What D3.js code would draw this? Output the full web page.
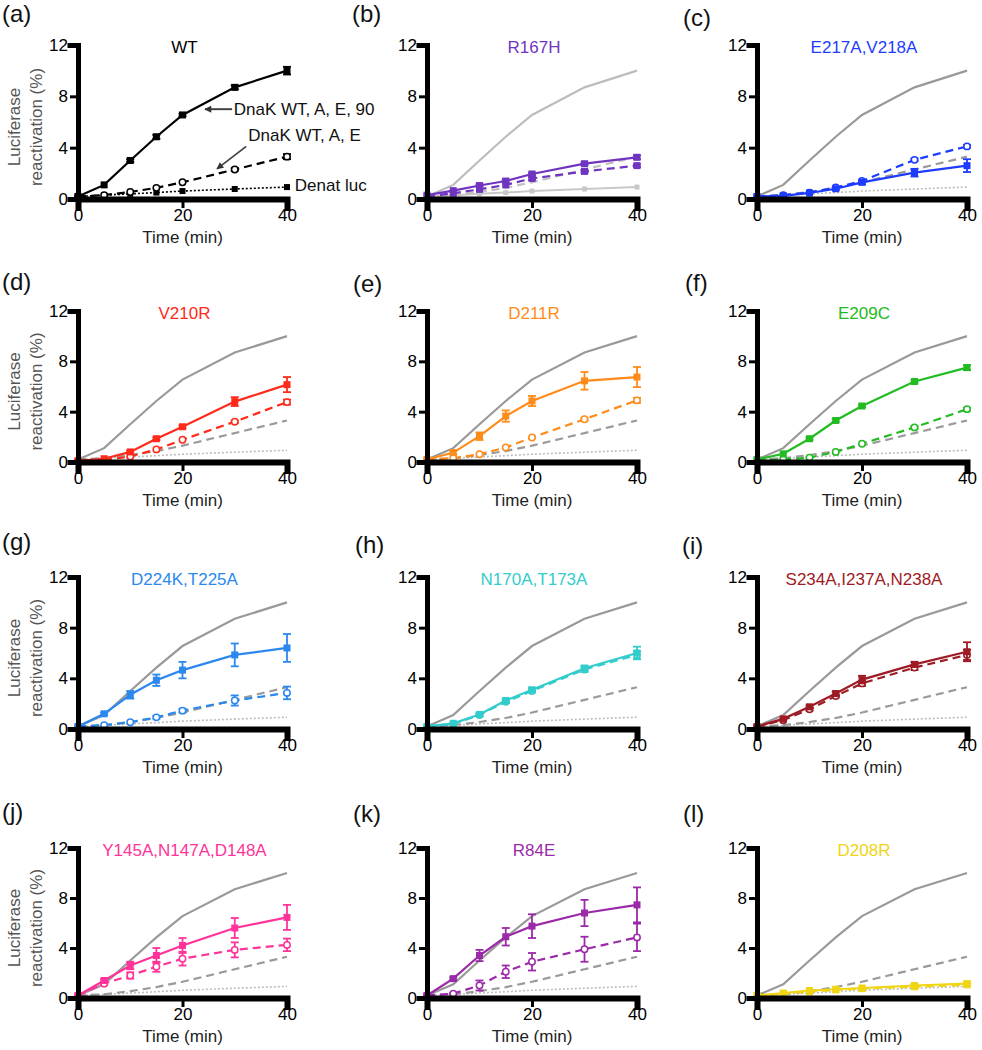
<!DOCTYPE html>
<html><head><meta charset="utf-8">
<script src="https://cdn.jsdelivr.net/npm/d3@7"></script>
<style>
html,body{margin:0;padding:0;background:#fff;}
svg text{font-family:"Liberation Sans",Arial,Helvetica,sans-serif;}
</style></head>
<body>
<svg id="chart" width="982" height="1050"></svg>
<script>
// ---------------- DATA ----------------
const times = [0, 5, 10, 15, 20, 30, 40];
const yTicks = [0, 4, 8, 12];
const xTicks = [0, 20, 40];
const panelLetters = ["(a)","(b)","(c)","(d)","(e)","(f)","(g)","(h)","(i)","(j)","(k)","(l)"];
const panelTitles = ["WT","R167H","E217A,V218A","V210R","D211R","E209C","D224K,T225A","N170A,T173A","S234A,I237A,N238A","Y145A,N147A,D148A","R84E","D208R"];
const xLabel = "Time (min)";
const yLabelLines = ["Luciferase", "reactivation (%)"];
const wtAnnotations = ["DnaK WT, A, E, 90", "DnaK WT, A, E", "Denat luc"];

// WT reference curves
const wtSolid  = [0.2, 1.1, 3.0, 4.85, 6.55, 8.7, 10.0];
const wtSolidErr = [0, 0, 0.1, 0.15, 0.1, 0.15, 0.3];
const wtDashed = [0.2, 0.3, 0.55, 0.87, 1.3, 2.3, 3.3];
const wtDashedErr = [0, 0, 0, 0, 0, 0.1, 0.2];
const denatLuc = [0.2, 0.3, 0.4, 0.5, 0.62, 0.78, 0.93];

// mutants: solid (A,E,90) and dashed (A,E)
const r167hSolid  = [0.3, 0.65, 1.05, 1.4, 1.95, 2.75, 3.25];
const r167hSolidErr = [0, 0, 0.1, 0.1, 0.1, 0.1, 0.15];
const r167hDashed = [0.2, 0.45, 0.75, 1.1, 1.6, 2.15, 2.6];
const r167hDashedErr = [0, 0, 0, 0, 0.1, 0.1, 0.1];

const e217Solid  = [0.2, 0.25, 0.47, 0.8, 1.3, 2.05, 2.6];
const e217SolidErr = [0, 0, 0, 0.1, 0.15, 0.3, 0.5];
const e217Dashed = [0.2, 0.3, 0.5, 0.9, 1.4, 3.05, 4.1];
const e217DashedErr = [0, 0, 0, 0, 0, 0.1, 0.1];

const v210rSolid  = [0.1, 0.26, 0.8, 1.85, 2.8, 4.8, 6.15];
const v210rSolidErr = [0, 0, 0.1, 0.1, 0.1, 0.35, 0.6];
const v210rDashed = [0.1, 0.15, 0.44, 1.0, 1.77, 3.2, 4.76];
const v210rDashedErr = [0, 0, 0, 0, 0, 0.1, 0.2];

const d211rSolid  = [0.2, 0.75, 2.05, 3.65, 4.85, 6.45, 6.75];
const d211rSolidErr = [0, 0.15, 0.3, 0.45, 0.4, 0.7, 0.8];
const d211rDashed = [0.2, 0.3, 0.62, 1.15, 1.95, 3.4, 4.9];
const d211rDashedErr = [0, 0, 0, 0, 0, 0.1, 0.2];

const e209cSolid  = [0.2, 0.65, 1.85, 3.3, 4.45, 6.4, 7.5];
const e209cSolidErr = [0, 0, 0.1, 0.1, 0.1, 0.1, 0.2];
const e209cDashed = [0.1, 0.2, 0.35, 0.8, 1.45, 2.75, 4.2];
const e209cDashedErr = [0, 0, 0, 0, 0, 0.1, 0.1];

const d224kSolid  = [0.2, 1.2, 2.7, 3.85, 4.65, 5.85, 6.4];
const d224kSolidErr = [0, 0.1, 0.3, 0.45, 0.65, 0.9, 1.1];
const d224kDashed = [0.2, 0.3, 0.53, 0.92, 1.45, 2.25, 2.85];
const d224kDashedErr = [0, 0, 0, 0.1, 0.15, 0.4, 0.5];

const n170aSolid  = [0.2, 0.45, 1.15, 2.25, 3.1, 4.8, 6.0];
const n170aSolidErr = [0, 0, 0.1, 0.15, 0.15, 0.2, 0.5];
const n170aDashed = [0.2, 0.4, 1.1, 2.15, 3.0, 4.7, 5.85];
const n170aDashedErr = [0, 0, 0.1, 0.1, 0.1, 0.2, 0.3];

const s234aSolid  = [0.2, 0.8, 1.75, 2.8, 3.9, 5.1, 6.1];
const s234aSolidErr = [0, 0, 0.1, 0.15, 0.3, 0.2, 0.75];
const s234aDashed = [0.2, 0.7, 1.55, 2.6, 3.6, 4.85, 5.85];
const s234aDashedErr = [0, 0, 0.1, 0.1, 0.2, 0.2, 0.4];

const y145aSolid  = [0.2, 1.4, 2.6, 3.4, 4.2, 5.6, 6.45];
const y145aSolidErr = [0, 0.1, 0.3, 0.6, 0.6, 0.8, 1.0];
const y145aDashed = [0.2, 1.15, 1.8, 2.5, 3.15, 3.85, 4.25];
const y145aDashedErr = [0, 0.1, 0.25, 0.4, 0.55, 0.6, 0.5];

const r84eSolid  = [0.2, 1.55, 3.4, 4.9, 5.75, 6.8, 7.45];
const r84eSolidErr = [0, 0.1, 0.45, 0.7, 0.95, 1.05, 1.4];
const r84eDashed = [0.2, 0.35, 1.0, 2.1, 2.9, 3.9, 4.85];
const r84eDashedErr = [0, 0.05, 0.4, 0.5, 0.7, 1.0, 1.1];

const d208rSolid  = [0.2, 0.4, 0.6, 0.7, 0.8, 1.0, 1.15];
const d208rSolidErr = [0, 0, 0, 0, 0, 0.1, 0.15];
const d208rDashed = [0.2, 0.35, 0.5, 0.65, 0.75, 0.9, 1.05];
const d208rDashedErr = [0, 0, 0, 0, 0, 0.05, 0.1];

const panelColors = ["#000000","#7035c0","#1e3cff","#ff2a1a","#ff8c1a","#22bb22","#2a88ee","#33cccc","#9e1b25","#ff3399","#9b2aa8","#f0d515"];

const mutantSolid = [wtSolid, r167hSolid, e217Solid, v210rSolid, d211rSolid, e209cSolid, d224kSolid, n170aSolid, s234aSolid, y145aSolid, r84eSolid, d208rSolid];
const mutantSolidErr = [wtSolidErr, r167hSolidErr, e217SolidErr, v210rSolidErr, d211rSolidErr, e209cSolidErr, d224kSolidErr, n170aSolidErr, s234aSolidErr, y145aSolidErr, r84eSolidErr, d208rSolidErr];
const mutantDashed = [wtDashed, r167hDashed, e217Dashed, v210rDashed, d211rDashed, e209cDashed, d224kDashed, n170aDashed, s234aDashed, y145aDashed, r84eDashed, d208rDashed];
const mutantDashedErr = [wtDashedErr, r167hDashedErr, e217DashedErr, v210rDashedErr, d211rDashedErr, e209cDashedErr, d224kDashedErr, n170aDashedErr, s234aDashedErr, y145aDashedErr, r84eDashedErr, d208rDashedErr];

// ---------------- LAYOUT ----------------
const colX0 = [78, 427, 757];
const colX1 = [287, 637, 967];
const rowTop = [45, 311, 577, 848];
const rowBot = [199, 462, 729, 998];
const letterPos = [[2,22],[352,22],[683,26],[2,290],[353,292],[685,291],[2,550],[355,553],[682,554],[2,820],[353,822],[683,822]];

const svg = d3.select("#chart");
const FS = 17;

function drawPanel(i) {
  const col = i % 3, row = Math.floor(i / 3);
  const x = d3.scaleLinear().domain([0, 40]).range([colX0[col], colX1[col]]);
  const y = d3.scaleLinear().domain([0, 12]).range([rowBot[row], rowTop[row]]);
  const g = svg.append("g");
  const color = panelColors[i];
  const line = d3.line().x((d, k) => x(times[k])).y(d => y(d));
  const pts = arr => arr.map((v, k) => ({t: times[k], v: v}));

  // panel letter
  svg.append("text").attr("x", letterPos[i][0]).attr("y", letterPos[i][1])
    .attr("font-size", 24).attr("fill", "#111").text(panelLetters[i]);

  // title
  g.append("text").attr("x", (colX0[col] + colX1[col]) / 2 + 2).attr("y", rowTop[row] + 8)
    .attr("text-anchor", "middle").attr("font-size", FS).attr("fill", i === 0 ? "#000" : color)
    .text(panelTitles[i]);

  // grey references
  if (i > 0) {
    const light = (i === 1);
    g.append("path").attr("d", line(denatLuc)).attr("fill", "none")
      .attr("stroke", light ? "#c8c8c8" : "#bdbdbd").attr("stroke-width", light ? 2 : 1.6)
      .attr("stroke-dasharray", light ? null : "2,2");
    if (light) {
      g.selectAll(null).data(pts(denatLuc)).enter().append("rect")
        .attr("x", d => x(d.t) - 2.5).attr("y", d => y(d.v) - 2.5).attr("width", 5).attr("height", 5)
        .attr("fill", "#c8c8c8");
    }
    g.append("path").attr("d", line(wtDashed)).attr("fill", "none")
      .attr("stroke", light ? "#c0c0c0" : "#9a9a9a").attr("stroke-width", 2.2).attr("stroke-dasharray", "8,5");
    g.append("path").attr("d", line(wtSolid)).attr("fill", "none")
      .attr("stroke", light ? "#bdbdbd" : "#999999").attr("stroke-width", 2.2);
  } else {
    // denat luc (black dotted, filled squares)
    g.append("path").attr("d", line(denatLuc)).attr("fill", "none")
      .attr("stroke", "#000").attr("stroke-width", 1.6).attr("stroke-dasharray", "2,2");
    g.selectAll(null).data(pts(denatLuc)).enter().append("rect")
      .attr("x", d => x(d.t) - 3).attr("y", d => y(d.v) - 3).attr("width", 6).attr("height", 6)
      .attr("fill", "#000");
  }

  // error bars
  function errBars(vals, errs) {
    const data = vals.map((v, k) => ({t: times[k], v: v, e: errs[k]})).filter(d => d.e > 0);
    const eg = g.append("g").attr("stroke", color).attr("stroke-width", 1.8).attr("fill", "none");
    data.forEach(d => {
      eg.append("line").attr("x1", x(d.t)).attr("x2", x(d.t)).attr("y1", y(d.v - d.e)).attr("y2", y(d.v + d.e));
      eg.append("line").attr("x1", x(d.t) - 4).attr("x2", x(d.t) + 4).attr("y1", y(d.v - d.e)).attr("y2", y(d.v - d.e));
      eg.append("line").attr("x1", x(d.t) - 4).attr("x2", x(d.t) + 4).attr("y1", y(d.v + d.e)).attr("y2", y(d.v + d.e));
    });
  }

  // dashed series
  const dVals = mutantDashed[i];
  errBars(dVals, mutantDashedErr[i]);
  g.append("path").attr("d", line(dVals)).attr("fill", "none")
    .attr("stroke", color).attr("stroke-width", 2.2).attr("stroke-dasharray", "8,5");
  if (i === 1 || i === 11) {
    g.selectAll(null).data(pts(dVals)).enter().append("rect")
      .attr("x", d => x(d.t) - 3.5).attr("y", d => y(d.v) - 3.5).attr("width", 7).attr("height", 7)
      .attr("fill", color);
  } else {
    g.selectAll(null).data(pts(dVals)).enter().append("circle")
      .attr("cx", d => x(d.t)).attr("cy", d => y(d.v)).attr("r", 3.2)
      .attr("fill", "#fff").attr("stroke", color).attr("stroke-width", 1.5);
  }

  // solid series
  const sVals = mutantSolid[i];
  errBars(sVals, mutantSolidErr[i]);
  g.append("path").attr("d", line(sVals)).attr("fill", "none")
    .attr("stroke", color).attr("stroke-width", 2.2);
  g.selectAll(null).data(pts(sVals)).enter().append("rect")
    .attr("x", d => x(d.t) - 3.5).attr("y", d => y(d.v) - 3.5).attr("width", 7).attr("height", 7)
    .attr("fill", color);

  // axes
  const ax = g.append("g").attr("transform", `translate(0,${rowBot[row]})`)
    .call(d3.axisBottom(x).tickValues(xTicks).tickSizeOuter(0).tickSize(9).tickPadding(1));
  const ay = g.append("g").attr("transform", `translate(${colX0[col]},0)`)
    .call(d3.axisLeft(y).tickValues(yTicks).tickSizeOuter(0).tickSize(8).tickPadding(2));
  [ax, ay].forEach(a => {
    a.select(".domain").attr("stroke", "#000").attr("stroke-width", 5).attr("stroke-linecap", "square");
    a.selectAll(".tick line").attr("stroke", "#000").attr("stroke-width", 3);
    a.selectAll(".tick text").attr("font-size", FS).attr("fill", "#000")
      .attr("font-family", "Liberation Sans, Arial, sans-serif");
  });
  ax.select(".domain").attr("stroke-width", 6);

  // x label
  g.append("text").attr("x", (colX0[col] + colX1[col]) / 2).attr("y", rowBot[row] + 44)
    .attr("text-anchor", "middle").attr("font-size", FS).attr("fill", "#222").text(xLabel);

  // y label (first column)
  if (col === 0) {
    const ym = (rowTop[row] + rowBot[row]) / 2 + 5;
    [14, 36].forEach((xx, k) => {
      g.append("text").attr("transform", `translate(${xx},${ym}) rotate(-90)`)
        .attr("text-anchor", "middle").attr("dominant-baseline", "central")
        .attr("font-size", FS).attr("fill", "#555").text(yLabelLines[k]);
    });
  }

  // annotations for WT panel
  if (i === 0) {
    const defs = svg.append("defs");
    defs.append("marker").attr("id", "ah").attr("viewBox", "0 0 10 10").attr("refX", 9).attr("refY", 5)
      .attr("markerWidth", 9).attr("markerHeight", 7).attr("orient", "auto-start-reverse")
      .attr("markerUnits", "userSpaceOnUse")
      .append("path").attr("d", "M0,0 L10,5 L0,10 z").attr("fill", "#333");
    g.append("line").attr("x1", x(29.5)).attr("y1", y(7.0)).attr("x2", x(24.3)).attr("y2", y(7.0))
      .attr("stroke", "#444").attr("stroke-width", 2).attr("marker-end", "url(#ah)");
    g.append("text").attr("x", x(29.8)).attr("y", y(7.0)).attr("dominant-baseline", "central")
      .attr("font-size", FS).attr("fill", "#111").text(wtAnnotations[0]);
    g.append("line").attr("x1", x(32.2)).attr("y1", y(4.1)).attr("x2", x(26.6)).attr("y2", y(2.35))
      .attr("stroke", "#444").attr("stroke-width", 1.8).attr("marker-end", "url(#ah)");
    g.append("text").attr("x", x(32.6)).attr("y", y(4.95)).attr("dominant-baseline", "central")
      .attr("font-size", FS).attr("fill", "#111").text(wtAnnotations[1]);
    g.append("text").attr("x", x(41.5)).attr("y", y(1.05)).attr("dominant-baseline", "central")
      .attr("font-size", FS).attr("fill", "#111").text(wtAnnotations[2]);
  }
}

for (let i = 0; i < 12; i++) drawPanel(i);
</script>
</body></html>
